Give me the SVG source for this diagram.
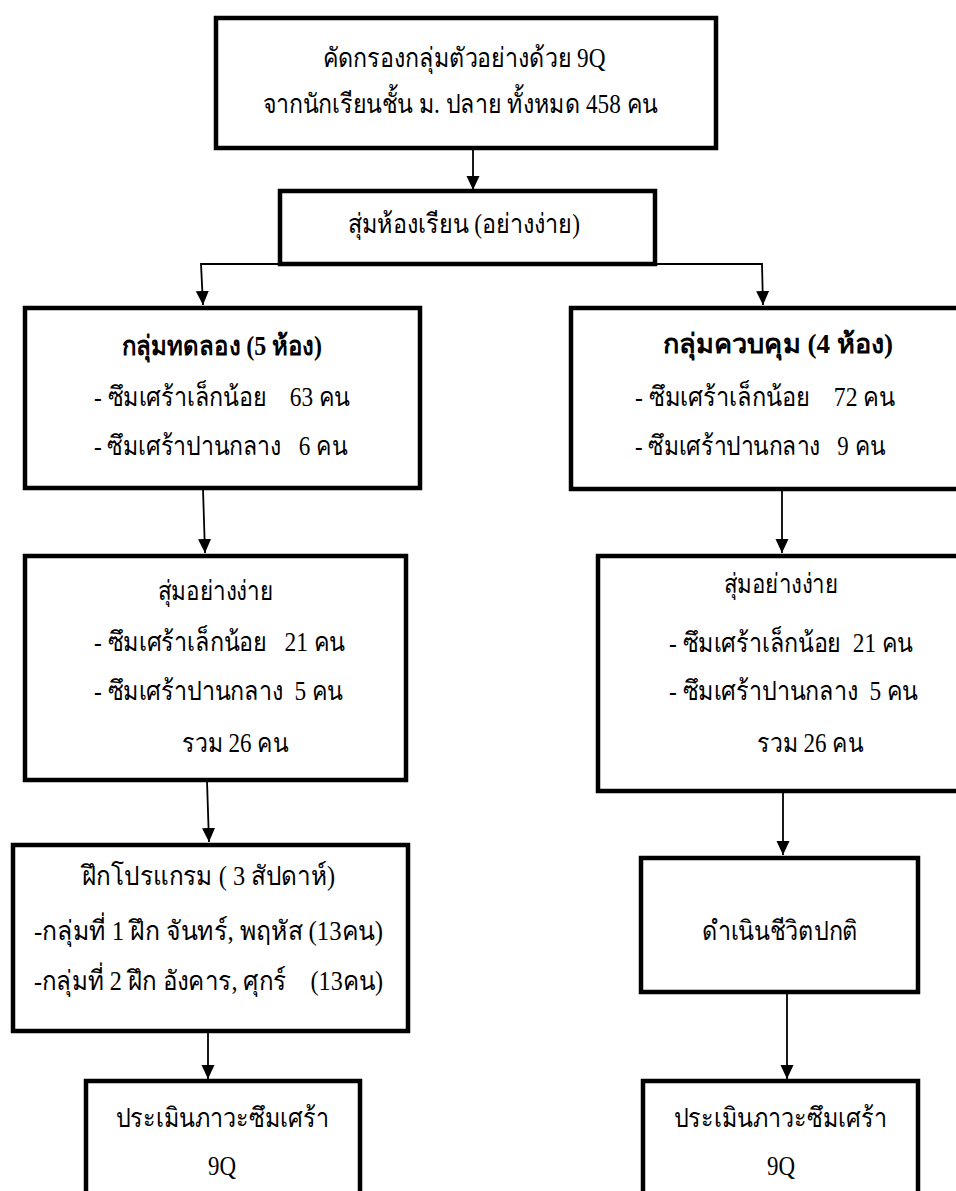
<svg xmlns="http://www.w3.org/2000/svg" width="956" height="1191" viewBox="0 0 956 1191">
<defs>
<marker id="arr" viewBox="0 0 14 14" refX="14" refY="7" markerWidth="14" markerHeight="14" markerUnits="userSpaceOnUse" orient="auto">
<path d="M0,0.5 L14,7 L0,13.5 z" fill="#000"/>
</marker>
<style>
.box{fill:#fff;stroke:#000;stroke-width:4.5}
.t{font-family:"Liberation Serif","Times New Roman",serif;font-size:27px;fill:#000}
.c{text-anchor:middle}
.b{font-weight:bold}
.ln{fill:none;stroke:#000;stroke-width:1.8}
</style>
</defs>
<rect width="956" height="1191" fill="#fff"/>
<g id="connectors">
<path class="ln" d="M473,149 L473,190" marker-end="url(#arr)"/>
<path class="ln" d="M278,264 L201,264 L203,305" marker-end="url(#arr)"/>
<path class="ln" d="M657,264 L762,264 L763,305" marker-end="url(#arr)"/>
<path class="ln" d="M203,489 L205,553" marker-end="url(#arr)"/>
<path class="ln" d="M782,490 L782,553" marker-end="url(#arr)"/>
<path class="ln" d="M207,781 L209,842" marker-end="url(#arr)"/>
<path class="ln" d="M783,792 L783,855" marker-end="url(#arr)"/>
<path class="ln" d="M208,1032 L208,1079" marker-end="url(#arr)"/>
<path class="ln" d="M787,993 L787,1079" marker-end="url(#arr)"/>
</g>
<g id="n1">
<rect class="box" x="216" y="18" width="500" height="130"/>
<text class="t c" x="464" y="67" textLength="283" lengthAdjust="spacingAndGlyphs">คัดกรองกลุ่มตัวอย่างด้วย 9Q</text>
<text class="t c" x="460" y="113" textLength="395" lengthAdjust="spacingAndGlyphs">จากนักเรียนชั้น ม. ปลาย ทั้งหมด 458 คน</text>
</g>
<g id="n2">
<rect class="box" x="280" y="191" width="375" height="73"/>
<text class="t c" x="464" y="233" textLength="232" lengthAdjust="spacingAndGlyphs">สุ่มห้องเรียน (อย่างง่าย)</text>
</g>
<g id="n3">
<rect class="box" x="25" y="308" width="395" height="180"/>
<text class="t c b" x="222" y="355" textLength="200" lengthAdjust="spacingAndGlyphs">กลุ่มทดลอง (5 ห้อง)</text>
<text class="t" x="94" y="406" xml:space="preserve" textLength="256" lengthAdjust="spacingAndGlyphs">- ซึมเศร้าเล็กน้อย    63 คน</text>
<text class="t" x="94" y="455" xml:space="preserve" textLength="253" lengthAdjust="spacingAndGlyphs">- ซึมเศร้าปานกลาง   6 คน</text>
</g>
<g id="n4">
<rect class="box" x="571" y="308" width="400" height="181"/>
<text class="t c b" x="778" y="353" textLength="230" lengthAdjust="spacingAndGlyphs">กลุ่มควบคุม (4 ห้อง)</text>
<text class="t" x="635" y="406" xml:space="preserve" textLength="260" lengthAdjust="spacingAndGlyphs">- ซึมเศร้าเล็กน้อย    72 คน</text>
<text class="t" x="635" y="455" xml:space="preserve" textLength="250" lengthAdjust="spacingAndGlyphs">- ซึมเศร้าปานกลาง   9 คน</text>
</g>
<g id="n5">
<rect class="box" x="25" y="556" width="381" height="224"/>
<text class="t" x="158" y="600" textLength="115" lengthAdjust="spacingAndGlyphs">สุ่มอย่างง่าย</text>
<text class="t" x="94" y="651" xml:space="preserve" textLength="251" lengthAdjust="spacingAndGlyphs">- ซึมเศร้าเล็กน้อย   21 คน</text>
<text class="t" x="94" y="700" xml:space="preserve" textLength="249" lengthAdjust="spacingAndGlyphs">- ซึมเศร้าปานกลาง  5 คน</text>
<text class="t" x="182" y="752" textLength="106" lengthAdjust="spacingAndGlyphs">รวม 26 คน</text>
</g>
<g id="n6">
<rect class="box" x="598" y="556" width="380" height="235"/>
<text class="t" x="724" y="593" textLength="114" lengthAdjust="spacingAndGlyphs">สุ่มอย่างง่าย</text>
<text class="t" x="669" y="652" xml:space="preserve" textLength="244" lengthAdjust="spacingAndGlyphs">- ซึมเศร้าเล็กน้อย  21 คน</text>
<text class="t" x="669" y="700" xml:space="preserve" textLength="249" lengthAdjust="spacingAndGlyphs">- ซึมเศร้าปานกลาง  5 คน</text>
<text class="t" x="757" y="752" textLength="106" lengthAdjust="spacingAndGlyphs">รวม 26 คน</text>
</g>
<g id="n7">
<rect class="box" x="13" y="845" width="395" height="186"/>
<text class="t" x="82" y="885" textLength="253" lengthAdjust="spacingAndGlyphs">ฝึกโปรแกรม ( 3 สัปดาห์)</text>
<text class="t" x="34" y="940" xml:space="preserve" textLength="349" lengthAdjust="spacingAndGlyphs">-กลุ่มที่ 1 ฝึก จันทร์, พฤหัส (13คน)</text>
<text class="t" x="34" y="990" xml:space="preserve" textLength="349" lengthAdjust="spacingAndGlyphs">-กลุ่มที่ 2 ฝึก อังคาร, ศุกร์    (13คน)</text>
</g>
<g id="n8">
<rect class="box" x="641" y="858" width="277" height="134"/>
<text class="t c" x="780" y="940" textLength="156" lengthAdjust="spacingAndGlyphs">ดำเนินชีวิตปกติ</text>
</g>
<g id="n9">
<rect class="box" x="86" y="1081" width="274" height="130"/>
<text class="t c" x="222" y="1127" textLength="213" lengthAdjust="spacingAndGlyphs">ประเมินภาวะซึมเศร้า</text>
<text class="t c" x="222" y="1175" textLength="28" lengthAdjust="spacingAndGlyphs">9Q</text>
</g>
<g id="n10">
<rect class="box" x="643" y="1081" width="275" height="130"/>
<text class="t c" x="780" y="1127" textLength="213" lengthAdjust="spacingAndGlyphs">ประเมินภาวะซึมเศร้า</text>
<text class="t c" x="781" y="1175" textLength="28" lengthAdjust="spacingAndGlyphs">9Q</text>
</g>
</svg>
